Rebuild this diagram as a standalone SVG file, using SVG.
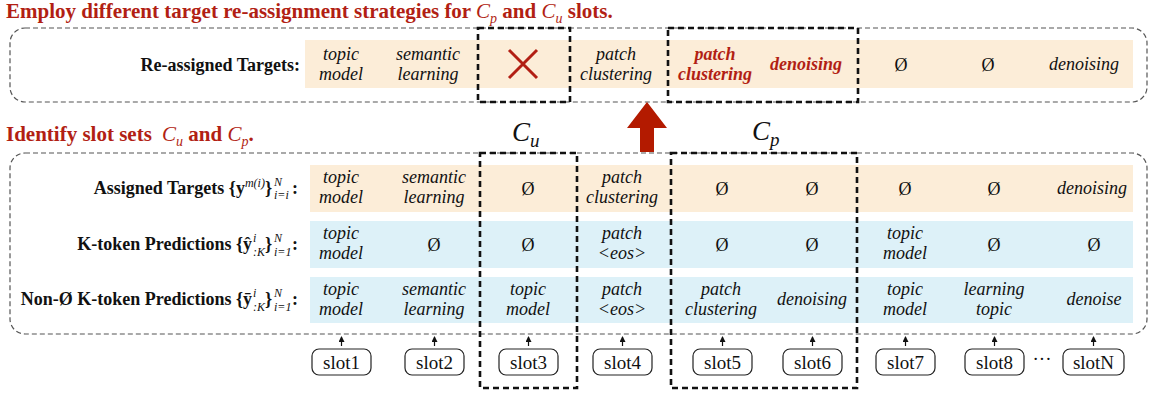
<svg xmlns="http://www.w3.org/2000/svg" width="1150" height="394" viewBox="0 0 1150 394" font-family="'Liberation Serif', 'DejaVu Serif', serif">
<style>
text{font-family:"Liberation Serif","DejaVu Serif",serif;fill:#111}
.title{font-size:21px;font-weight:bold;fill:#b21f14}
.tm{font-style:italic;font-weight:normal}
.lbl{font-size:18px;font-weight:bold}
.scr{font-size:12px;font-style:italic;font-weight:normal}
.cell{font-size:18px;font-style:italic;text-anchor:middle}
.red{fill:#b21f14;font-weight:bold}
.phi{font-size:18px;text-anchor:middle}
.big{font-size:27px;font-style:italic}
.slot{font-size:19px;text-anchor:middle}
.thin{fill:none;stroke:#555;stroke-width:1.2;stroke-dasharray:5 3}
.thick{fill:none;stroke:#111;stroke-width:2.6;stroke-dasharray:6 4}
.sbox{fill:#fff;stroke:#222;stroke-width:1.2}
.beige{fill:#fcedd8}
.blue{fill:#ddf1f8}
</style>
<defs>
<marker id="ah" viewBox="0 0 6 6" refX="5" refY="3" markerWidth="5" markerHeight="5" orient="auto"><path d="M0,0L6,3L0,6z" fill="#111"/></marker>
</defs>

<g id="titles">
<text class="title" x="6" y="18">Employ different target re-assignment strategies for <tspan class="tm">C</tspan><tspan class="tm" font-size="14" dy="5">p</tspan><tspan dy="-5"> and </tspan><tspan class="tm">C</tspan><tspan class="tm" font-size="14" dy="5">u</tspan><tspan dy="-5"> slots.</tspan></text>
<text class="title" x="6" y="141">Identify slot sets <tspan class="tm" dx="5">C</tspan><tspan class="tm" font-size="14" dy="5">u</tspan><tspan dy="-5"> and </tspan><tspan class="tm">C</tspan><tspan class="tm" font-size="14" dy="5">p</tspan><tspan dy="-5">.</tspan></text>
</g>

<g id="reassigned">
<rect class="thin" x="10" y="28" width="1137" height="74" rx="15"/>
<rect class="beige" x="305" y="40" width="828" height="48"/>
<text class="lbl" x="300" y="71" text-anchor="end">Re-assigned Targets:</text>
<text class="cell" x="341" y="60">topic</text><text class="cell" x="341" y="80">model</text>
<text class="cell" x="428" y="60">semantic</text><text class="cell" x="428" y="80">learning</text>
<path d="M509,50L537,78M537,50L509,78" stroke="#b21f14" stroke-width="3" fill="none"/>
<text class="cell" x="616" y="60">patch</text><text class="cell" x="616" y="80">clustering</text>
<text class="cell red" x="715" y="60">patch</text><text class="cell red" x="715" y="80">clustering</text>
<text class="cell red" x="806" y="70">denoising</text>
<text class="phi" x="901" y="71">Ø</text>
<text class="phi" x="988" y="71">Ø</text>
<text class="cell" x="1084" y="70">denoising</text>
</g>

<g id="up-arrow">
<path d="M640,152V128H627L647,102L667,128H654V152Z" fill="#b31a00"/>
</g>

<g id="set-labels">
<text class="big" x="512" y="141">C<tspan font-size="19" dy="6">u</tspan></text>
<text class="big" x="752" y="140">C<tspan font-size="19" dy="6">p</tspan></text>
</g>

<g id="identify">
<rect class="thin" x="10" y="153" width="1137" height="181" rx="15"/>
<rect class="beige" x="310" y="165" width="823" height="47"/>
<rect class="blue" x="310" y="221" width="823" height="47"/>
<rect class="blue" x="310" y="277" width="823" height="46"/>
</g>

<g id="row-assigned">
<text class="lbl" x="272" y="194" text-anchor="end">Assigned Targets {y<tspan class="scr" dy="-7">m(i)</tspan><tspan dy="7">}</tspan></text>
<text class="scr" x="274" y="186">N</text><text class="scr" x="274" y="199">i=i</text>
<text class="lbl" x="292" y="194">:</text>
<text class="cell" x="341" y="183">topic</text><text class="cell" x="341" y="203">model</text>
<text class="cell" x="434" y="183">semantic</text><text class="cell" x="434" y="203">learning</text>
<text class="phi" x="528" y="195">Ø</text>
<text class="cell" x="622" y="183">patch</text><text class="cell" x="622" y="203">clustering</text>
<text class="phi" x="722" y="195">Ø</text>
<text class="phi" x="812" y="195">Ø</text>
<text class="phi" x="905" y="195">Ø</text>
<text class="phi" x="994" y="195">Ø</text>
<text class="cell" x="1092" y="194">denoising</text>
</g>

<g id="row-k-token">
<text class="lbl" x="252" y="250" text-anchor="end">K-token Predictions {ŷ</text>
<text class="scr" x="253" y="242">i</text><text class="scr" x="253" y="256">:K</text>
<text class="lbl" x="272" y="250" text-anchor="end">}</text>
<text class="scr" x="274" y="242">N</text><text class="scr" x="274" y="256">i=1</text>
<text class="lbl" x="292" y="250">:</text>
<text class="cell" x="341" y="239">topic</text><text class="cell" x="341" y="259">model</text>
<text class="phi" x="434" y="251">Ø</text>
<text class="phi" x="528" y="251">Ø</text>
<text class="cell" x="622" y="239">patch</text><text class="cell" x="622" y="259">&lt;eos&gt;</text>
<text class="phi" x="722" y="251">Ø</text>
<text class="phi" x="812" y="251">Ø</text>
<text class="cell" x="905" y="239">topic</text><text class="cell" x="905" y="259">model</text>
<text class="phi" x="994" y="251">Ø</text>
<text class="phi" x="1094" y="251">Ø</text>
</g>

<g id="row-non-empty">
<text class="lbl" x="252" y="305" text-anchor="end">Non-Ø K-token Predictions {ȳ</text>
<text class="scr" x="253" y="297">i</text><text class="scr" x="253" y="311">:K</text>
<text class="lbl" x="272" y="305" text-anchor="end">}</text>
<text class="scr" x="274" y="297">N</text><text class="scr" x="274" y="311">i=1</text>
<text class="lbl" x="292" y="305">:</text>
<text class="cell" x="341" y="295">topic</text><text class="cell" x="341" y="315">model</text>
<text class="cell" x="434" y="295">semantic</text><text class="cell" x="434" y="315">learning</text>
<text class="cell" x="528" y="295">topic</text><text class="cell" x="528" y="315">model</text>
<text class="cell" x="622" y="295">patch</text><text class="cell" x="622" y="315">&lt;eos&gt;</text>
<text class="cell" x="721" y="295">patch</text><text class="cell" x="721" y="315">clustering</text>
<text class="cell" x="812" y="305">denoising</text>
<text class="cell" x="905" y="295">topic</text><text class="cell" x="905" y="315">model</text>
<text class="cell" x="994" y="295">learning</text><text class="cell" x="994" y="315">topic</text>
<text class="cell" x="1094" y="305">denoise</text>
</g>

<g id="slots">
<g id="slot1"><rect class="sbox" x="312" y="349" width="59" height="26" rx="7"/><text class="slot" x="341.5" y="369">slot1</text></g>
<g id="slot2"><rect class="sbox" x="405" y="349" width="59" height="26" rx="7"/><text class="slot" x="434.5" y="369">slot2</text></g>
<g id="slot3"><rect class="sbox" x="499" y="349" width="59" height="26" rx="7"/><text class="slot" x="528.5" y="369">slot3</text></g>
<g id="slot4"><rect class="sbox" x="593" y="349" width="59" height="26" rx="7"/><text class="slot" x="622.5" y="369">slot4</text></g>
<g id="slot5"><rect class="sbox" x="693" y="349" width="59" height="26" rx="7"/><text class="slot" x="722.5" y="369">slot5</text></g>
<g id="slot6"><rect class="sbox" x="783" y="349" width="59" height="26" rx="7"/><text class="slot" x="812.5" y="369">slot6</text></g>
<g id="slot7"><rect class="sbox" x="876" y="349" width="59" height="26" rx="7"/><text class="slot" x="905.5" y="369">slot7</text></g>
<g id="slot8"><rect class="sbox" x="965" y="349" width="59" height="26" rx="7"/><text class="slot" x="994.5" y="369">slot8</text></g>
<text class="slot" x="1042" y="365">···</text>
<g id="slotN"><rect class="sbox" x="1063" y="349" width="61" height="26" rx="7"/><text class="slot" x="1093.5" y="369">slotN</text></g>
</g>

<g id="connectors" stroke="#111" stroke-width="1.2" marker-end="url(#ah)">
<line x1="341.5" y1="346" x2="341.5" y2="337"/>
<line x1="434.5" y1="346" x2="434.5" y2="337"/>
<line x1="528.5" y1="346" x2="528.5" y2="337"/>
<line x1="622.5" y1="346" x2="622.5" y2="337"/>
<line x1="722.5" y1="346" x2="722.5" y2="337"/>
<line x1="812.5" y1="346" x2="812.5" y2="337"/>
<line x1="905.5" y1="346" x2="905.5" y2="337"/>
<line x1="994.5" y1="346" x2="994.5" y2="337"/>
<line x1="1093.5" y1="346" x2="1093.5" y2="337"/>
</g>

<g id="set-boxes">
<rect class="thick" x="478" y="28" width="92" height="74"/>
<rect class="thick" x="668" y="28" width="190" height="74"/>
<rect class="thick" x="480" y="153" width="97" height="235"/>
<rect class="thick" x="671" y="153" width="186" height="235"/>
</g>
</svg>
